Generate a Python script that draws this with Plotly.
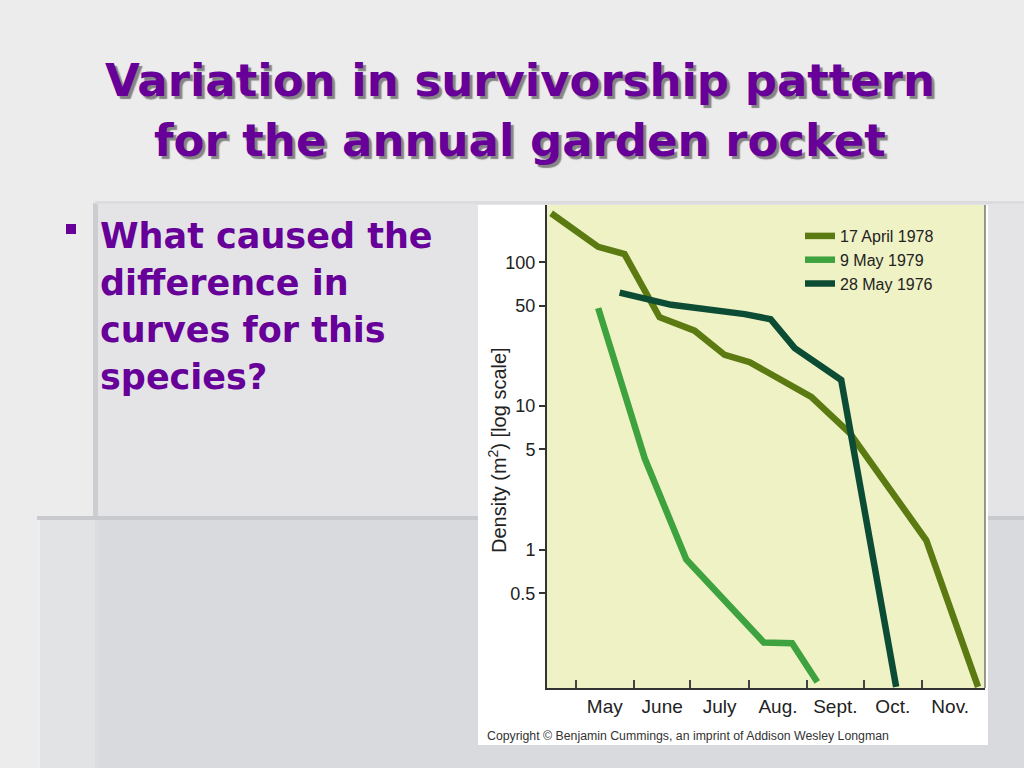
import math
import plotly.graph_objects as go

# ---------------- data ----------------
series_names = ["17 April 1978", "9 May 1979", "28 May 1976"]
series_colors = ["#5b7a12", "#3ea33f", "#0c4c35"]

# x = day of year, y = density per m^2
apr1978_days = [108, 133, 147, 165.6, 184.2, 200.2, 213.5, 246.2, 266.7, 307.3, 334.8]
apr1978_vals = [219, 128, 114, 41.5, 33.5, 22.7, 20.2, 11.6, 6.5, 1.17, 0.112]

may1979_days = [133, 157.7, 179.8, 221, 236, 249.4]
may1979_vals = [48, 4.34, 0.86, 0.228, 0.225, 0.121]

may1976_days = [144.4, 171.8, 210.8, 224.6, 237.4, 262.1, 291.3]
may1976_vals = [61.5, 50.6, 43.6, 40.2, 25.3, 15.2, 0.112]

month_labels = ["May", "June", "July", "Aug.", "Sept.", "Oct.", "Nov."]
month_start_days = [121, 152, 182, 213, 244, 274, 305, 335]

y_tick_vals = [0.5, 1, 5, 10, 50, 100]
y_tick_text = ["0.5", "1", "5", "10", "50", "100"]

x_range = [105.8, 338.5]
y_range_vals = [0.11, 250]

title_lines = ["Variation in survivorship pattern", "for the annual garden rocket"]
bullet_lines = ["What caused the", "difference in", "curves for this", "species?"]
copyright_text = "Copyright \u00a9 Benjamin Cummings, an imprint of Addison Wesley Longman"

# ---------------- layout geometry ----------------
W, H = 1024, 768
L, R, T, B = 547, 985, 205, 688  # plot area in pixels


def px2x(px):
    return (px - L) / (R - L)


def py2y(py):
    return (B - py) / (B - T)


month_mids = [(month_start_days[i] + month_start_days[i + 1]) / 2 for i in range(len(month_labels))]

fig = go.Figure()
for name, color, xs, ys in zip(
    series_names,
    series_colors,
    [apr1978_days, may1979_days, may1976_days],
    [apr1978_vals, may1979_vals, may1976_vals],
):
    fig.add_trace(
        go.Scatter(x=xs, y=ys, mode="lines", name=name,
                   line=dict(color=color, width=6.5))
    )

shapes = []


def rect(x0, y0, x1, y1, color):
    shapes.append(dict(type="rect", xref="paper", yref="paper",
                       x0=px2x(x0), x1=px2x(x1), y0=py2y(y1), y1=py2y(y0),
                       fillcolor=color, line=dict(width=0), layer="below"))


# slide background panels
rect(95, 203, W, 519, "#e4e4e6")
rect(93, 203, 98, 519, "#cdcdd1")
rect(95, 201, W, 204, "#dcdcdf")
rect(37, 517, W, H, "#d9dadd")
rect(37, 517, 98, H, "#e2e3e5")
rect(37, 517, 40, H, "#eeeeef")
rect(37, 516, W, 520, "#c9cacd")
rect(95, 520, 98, H, "#dcdde0")
# chart image box
rect(478, 205, 988, 745, "#ffffff")
rect(L, T, R, B, "#eff2c4")
# bullet square
rect(66, 224, 76, 234, "#660099")

shapes.append(dict(type="line", xref="paper", yref="paper", x0=1, x1=1, y0=0, y1=1,
                   line=dict(color="#555555", width=1.2), layer="above"))

annotations = []
title_font = "DejaVu Sans"
for txt, cy in zip(title_lines, [80, 140]):
    annotations.append(dict(xref="paper", yref="paper", x=px2x(520), y=py2y(cy),
                            text="<b>%s</b>" % txt, showarrow=False,
                            xanchor="center", yanchor="middle",
                            font=dict(family=title_font, size=45, color="#660099",
                                      shadow="3px 3px 1px rgba(50,50,50,0.55)")))

for txt, cy in zip(bullet_lines, [236, 283, 330, 377]):
    annotations.append(dict(xref="paper", yref="paper", x=px2x(98), y=py2y(cy),
                            text="<b>%s</b>" % txt, showarrow=False,
                            xanchor="left", yanchor="middle",
                            font=dict(family=title_font, size=35, color="#660099")))

annotations.append(dict(xref="paper", yref="paper", x=px2x(497), y=py2y(450),
                        text="Density (m<sup>2</sup>) [log scale]", showarrow=False,
                        textangle=-90, xanchor="center", yanchor="middle",
                        font=dict(family="Liberation Sans", size=20, color="#222222")))

annotations.append(dict(xref="paper", yref="paper", x=px2x(485), y=py2y(736),
                        text=copyright_text, showarrow=False,
                        xanchor="left", yanchor="middle",
                        font=dict(family="Liberation Sans", size=12.3, color="#333333")))

fig.update_layout(
    width=W, height=H,
    margin=dict(l=L, r=W - R, t=T, b=H - B, pad=0),
    paper_bgcolor="#ececec",
    plot_bgcolor="rgba(0,0,0,0)",
    showlegend=True,
    legend=dict(x=px2x(800), y=py2y(219), xanchor="left", yanchor="top",
                bgcolor="rgba(0,0,0,0)", borderwidth=0,
                font=dict(family="Liberation Sans", size=16, color="#222222"),
                tracegroupgap=0, itemwidth=30),
    shapes=shapes,
    annotations=annotations,
    xaxis=dict(
        range=x_range, showgrid=False, zeroline=False,
        showline=True, linecolor="#333333", linewidth=2,
        tickmode="array", tickvals=month_mids, ticktext=month_labels,
        ticks="", tickfont=dict(family="Liberation Sans", size=19, color="#222222"),
        minor=dict(tickmode="array", tickvals=month_start_days[:-1], ticks="inside",
                   ticklen=8, tickwidth=1.5, tickcolor="#444444", showgrid=False),
    ),
    yaxis=dict(
        type="log", range=[math.log10(y_range_vals[0]), math.log10(y_range_vals[1])],
        showgrid=False, zeroline=False,
        showline=True, linecolor="#333333", linewidth=2,
        tickmode="array", tickvals=y_tick_vals, ticktext=y_tick_text,
        ticks="outside", ticklen=6, tickwidth=1.5, tickcolor="#333333",
        tickfont=dict(family="Liberation Sans", size=18, color="#222222"),
    ),
)

fig.write_html("out.html", config={"displayModeBar": False},
               post_script="document.body.style.margin='0px';")
